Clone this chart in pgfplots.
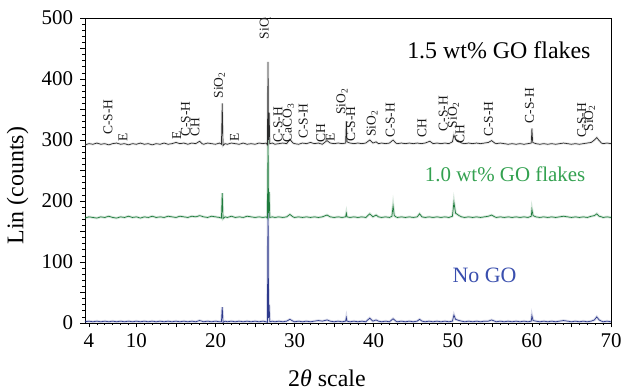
\documentclass[border=0pt]{standalone}
\usepackage{fontspec}
\setmainfont{Liberation Serif}
\usepackage{pgfplots}
\usepackage{pgfplotstable}
\pgfplotsset{compat=1.18}

\definecolor{xrdblack}{HTML}{2B2B2B}
\definecolor{xrdgreen}{HTML}{1E7B3C}
\definecolor{txtgreen}{HTML}{33A150}
\definecolor{xrdblue}{HTML}{2E3A8C}
\definecolor{txtblue}{HTML}{3A4FAE}

% 1.5 wt% GO flakes
\pgfplotstableread{
x y
3.5 292
4 294
4.5 293
5 295
5.5 293
6 294
6.5 292
7 294
7.5 295
8 293
8.5 294
9 292
9.5 294
10 293
10.5 295
11 293
11.5 294
12 292
12.5 294
13 293
13.5 295
14 293
14.5 294
15 296
15.5 294
16 295
16.5 293
17 295
17.5 294
18 298
18.3 294
18.5 293
19 295
19.5 294
20 293
20.5 295
20.75 293
20.85 360
20.95 291
21.2 294
21.5 293
22 295
22.5 294
23 293
23.5 295
24 293
24.5 294
25 293
25.5 295
26 294
26.4 295
26.56 292
26.64 428
26.71 300
26.78 345
26.86 294
27.2 295
27.5 293
28 294
28.5 295
29 294
29.4 301
29.8 295
30 294
30.5 293
31 295
31.5 294
32 296
32.5 294
33 295
33.5 293
34.1 299
34.5 295
35 294
35.5 295
36 294
36.45 295
36.54 331
36.62 297
37 295
37.5 294
38 295
38.5 294
39 295
39.5 300
39.9 295
40.3 297
40.6 294
41 295
41.5 294
42 295
42.45 300
42.8 295
43 294
43.5 295
44 294
44.5 295
45 294
45.5 295
46 294
46.5 295
47.1 298
47.4 295
47.5 294
48 295
48.5 294
49 295
49.5 294
49.95 297
50.14 308
50.35 301
50.8 298
51.1 295
51.5 294
52 295
52.5 294
53 295
53.5 294
54 295
54.5 296
54.9 299
55.3 295
55.5 294
56 295
56.5 294
57 293
57.5 294
58 293
58.5 294
59 293
59.5 294
59.92 295
60.0 319
60.1 296
60.5 294
61 293
61.5 294
62 293
62.5 294
63 293
63.5 294
64 295
64.5 294
65 293
65.5 294
66 293
66.5 294
67 295
67.5 296
67.9 300
68.2 304
68.5 299
68.8 295
69 294
69.5 295
70 294
}\goHigh

% 1.0 wt% GO flakes
\pgfplotstableread{
x y
3.5 172
4 174
4.5 173
5 172
5.5 174
6 173
6.5 175
7 173
7.5 172
8 174
8.5 173
9 175
9.5 173
10 174
10.5 172
11 174
11.5 173
12 175
12.5 173
13 174
13.5 173
14 175
14.5 174
15 173
15.5 175
16 174
16.5 173
17 175
17.5 174
18 176
18.5 174
19 173
19.5 175
20 174
20.5 173
20.75 172
20.85 213
20.95 171
21.2 174
21.5 173
22 175
22.5 173
23 174
23.5 173
24 175
24.5 174
25 173
25.5 174
26 173
26.4 174
26.56 172
26.64 300
26.71 180
26.78 215
26.86 173
27.2 174
27.5 173
28 174
28.5 173
29 174
29.4 178
29.8 174
30 173
30.5 174
31 173
31.5 174
32 173
32.5 174
33 173
33.5 174
34.1 177
34.5 174
35 173
35.5 174
36 173
36.45 174
36.54 180
36.62 174
37 173
37.5 174
38 173
38.5 174
39 173
39.5 179
39.9 174
40.3 177
40.6 174
41 173
41.5 174
42 173
42.3 175
42.45 192
42.6 176
42.8 174
43 173
43.5 174
44 173
44.5 174
45 173
45.5 174
45.8 179
46.1 174
46.5 173
47 174
47.5 173
48 174
48.5 173
49 174
49.5 173
49.95 175
50.14 198
50.35 180
50.8 176
51.1 174
51.5 173
52 174
52.5 173
53 174
53.5 173
54 174
54.5 175
54.9 177
55.3 174
55.5 173
56 174
56.5 173
57 174
57.5 173
58 174
58.5 173
59 174
59.5 173
59.92 175
60.0 186
60.15 176
60.5 174
61 173
61.5 174
62 173
62.5 174
63 173
63.5 174
64 175
64.5 174
65 173
65.5 174
66 173
66.5 174
67 173
67.5 175
67.9 176
68.2 179
68.5 175
68.8 174
69 173
69.5 174
70 173
}\goMid

% No GO
\pgfplotstableread{
x y
3.5 2
4 3
4.5 2
5 3
5.5 2
6 3
6.5 2
7 3
7.5 2
8 3
8.5 2
9 3
9.5 2
10 3
10.5 2
11 3
11.5 2
12 3
12.5 2
13 3
13.5 2
14 3
14.5 2
15 3
15.5 2
16 3
16.5 2
17 3
17.5 2
18 4
18.5 2
19 3
19.5 2
20 3
20.5 2
20.75 2
20.85 26
20.95 1
21.2 3
21.5 2
22 3
22.5 2
23 3
23.5 2
24 3
24.5 2
25 3
25.5 2
26 3
26.4 2
26.56 1
26.64 200
26.71 8
26.78 30
26.86 2
27.2 3
27.5 2
28 3
28.5 2
29 3
29.4 6
29.8 3
30 2
30.5 3
31 2
31.5 3
32 2
32.5 3
33 4
33.5 3
34.1 5
34.5 3
35 2
35.5 3
36 2
36.45 3
36.54 9
36.62 3
37 2
37.5 3
38 2
38.5 3
39 2
39.5 8
39.9 3
40.3 5
40.6 3
41 2
41.5 3
42 2
42.45 7
42.8 3
43 2
43.5 3
44 2
44.5 3
45 2
45.5 3
45.8 6
46.1 3
46.5 2
47 3
47.5 2
48 3
48.5 2
49 3
49.5 2
49.95 3
50.14 13
50.35 6
50.8 4
51.1 3
51.5 2
52 3
52.5 2
53 3
53.5 2
54 3
54.5 3
54.9 5
55.3 3
55.5 2
56 3
56.5 2
57 3
57.5 2
58 3
58.5 2
59 3
59.5 2
59.92 3
60.0 12
60.15 4
60.5 3
61 2
61.5 3
62 2
62.5 3
63 2
63.5 3
64 4
64.5 3
65 2
65.5 3
66 2
66.5 3
67 2
67.5 3
67.9 5
68.2 10
68.5 5
68.8 3
69 2
69.5 3
70 2
}\goNone

\begin{document}
\begin{tikzpicture}[
  peak/.style={rotate=90, anchor=west, inner sep=0pt,
    font=\fontsize{13.5}{13.5}\selectfont, text=black!90}]
\begin{axis}[
  scale only axis, width=526bp, height=305bp,
  xmin=3.5, xmax=70, ymin=0, ymax=500,
  xtick={4,10,15,20,25,30,35,40,45,50,55,60,65,70},
  xticklabels={4,10,,20,,30,,40,,50,,60,,70},
  minor xtick={5,6,...,69},
  ytick={0,50,...,500},
  yticklabels={0,,100,,200,,300,,400,,500},
  minor ytick={10,20,...,490},
  tick align=outside, tick pos=left,
  major tick length=4.5bp, minor tick length=2.5bp,
  every tick/.style={black, line width=0.8bp},
  every minor tick/.style={black, line width=0.7bp},
  axis line style={line width=0.8bp},
  tick label style={font=\fontsize{21}{21}\selectfont},
  xticklabel style={yshift=-3bp},
  yticklabel style={xshift=-4bp},
  xlabel={2\textit{θ} scale},
  xlabel style={font=\fontsize{24}{24}\selectfont,
    at={(axis description cs:0.46,-0.18)}, anchor=center},
  ylabel={Lin (counts)},
  ylabel style={font=\fontsize{24}{24}\selectfont,
    at={(axis description cs:-0.128,0.45)}, anchor=center},
  halo/.style={line width=2.6bp, opacity=0.18},
]
% soft halo under each pattern
\addplot[xrdblue, halo] table {\goNone};
\addplot[xrdblue, line width=0.7bp] table {\goNone};
\addplot[xrdgreen, halo] table {\goMid};
\addplot[xrdgreen, line width=0.7bp] table {\goMid};
\addplot[gray, halo] table {\goHigh};
\addplot[xrdblack, line width=0.7bp] table {\goHigh};

% sample names
\node[anchor=west, font=\fontsize{24}{24}\selectfont, text=black]
  at (axis cs:43.8,447) {1.5 wt\% GO flakes};
\node[anchor=east, font=\fontsize{21}{21}\selectfont, text=txtgreen]
  at (axis cs:67.2,244) {1.0 wt\% GO flakes};
\node[anchor=east, font=\fontsize{22}{22}\selectfont, text=txtblue]
  at (axis cs:58.5,78) {No GO};

% phase identification
\node[peak] at (axis cs:6.4,308) {C-S-H};
\node[peak] at (axis cs:8.3,297) {E};
\node[peak] at (axis cs:15.1,300) {E};
\node[peak] at (axis cs:16.2,305) {C-S-H};
\node[peak] at (axis cs:17.4,305) {CH};
\node[peak] at (axis cs:20.5,368) {SiO\textsubscript{2}};
\node[peak] at (axis cs:22.4,297) {E};
\node[peak] at (axis cs:26.3,465) {SiO\textsubscript{2}};
\node[peak] at (axis cs:27.9,296) {C-S-H};
\node[peak] at (axis cs:29.2,296) {CaCO\textsubscript{3}};
\node[peak] at (axis cs:31.1,302) {C-S-H};
\node[peak] at (axis cs:33.3,295) {CH};
\node[peak] at (axis cs:34.5,297) {E};
\node[peak] at (axis cs:36.0,341) {SiO\textsubscript{2}};
\node[peak] at (axis cs:37.1,297) {C-S-H};
\node[peak] at (axis cs:39.8,305) {SiO\textsubscript{2}};
\node[peak] at (axis cs:42.1,303) {C-S-H};
\node[peak] at (axis cs:46.1,303) {CH};
\node[peak] at (axis cs:48.8,314) {C-S-H};
\node[peak] at (axis cs:50.1,319) {SiO\textsubscript{2}};
\node[peak] at (axis cs:50.9,294) {CH};
\node[peak] at (axis cs:54.5,305) {C-S-H};
\node[peak] at (axis cs:59.7,327) {C-S-H};
\node[peak] at (axis cs:66.3,303) {C-S-H};
\node[peak] at (axis cs:67.3,314) {SiO\textsubscript{2}};
\end{axis}
\pgfresetboundingbox
\path ([shift={(-85bp,-69bp)}]current axis.south west)
  rectangle ([shift={(12bp,18bp)}]current axis.north east);
\end{tikzpicture}
\end{document}
